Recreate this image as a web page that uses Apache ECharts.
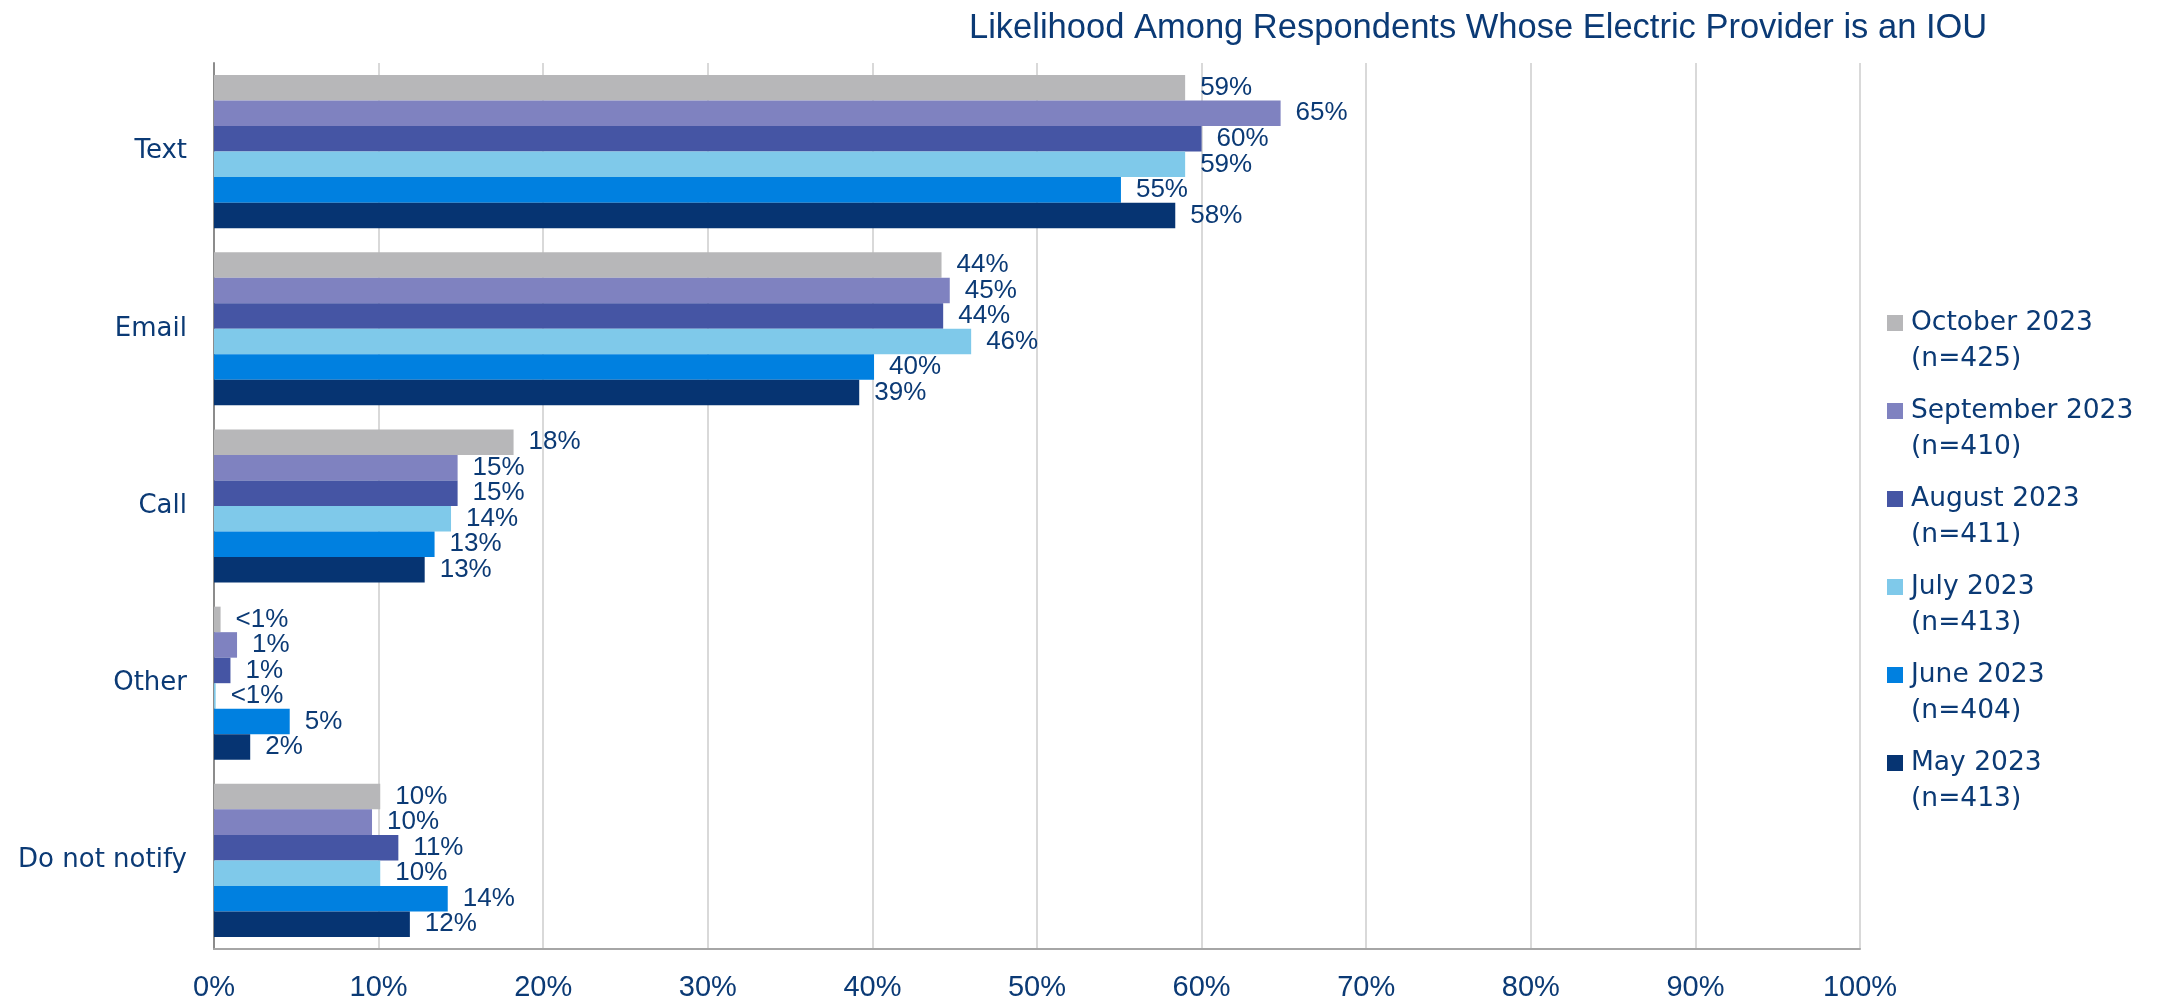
<!DOCTYPE html>
<html>
<head>
<meta charset="utf-8">
<title>Likelihood Among Respondents Whose Electric Provider is an IOU</title>
<script src="https://cdn.jsdelivr.net/npm/echarts@6/dist/echarts.min.js"></script>
<style>
  html, body { margin: 0; padding: 0; background: #ffffff; }
  #chart { width: 2169px; height: 1003px; }
</style>
</head>
<body>
<div id="chart"></div>
<script>
// Notification channels (top to bottom)
const categories = ['Text', 'Email', 'Call', 'Other', 'Do not notify'];

// Survey waves, newest first, with sample sizes
const waves = ['October 2023', 'September 2023', 'August 2023', 'July 2023', 'June 2023', 'May 2023'];
const sampleSizes = [425, 410, 411, 413, 404, 413];

// Share of respondents (%) per channel, one array per wave
const october2023 = [59.0, 44.2, 18.2, 0.4, 10.1];
const september2023 = [64.8, 44.7, 14.8, 1.4, 9.6];
const august2023 = [60.0, 44.3, 14.8, 1.0, 11.2];
const july2023 = [59.0, 46.0, 14.4, 0.1, 10.1];
const june2023 = [55.1, 40.1, 13.4, 4.6, 14.2];
const may2023 = [58.4, 39.2, 12.8, 2.2, 11.9];

const waveValues = [october2023, september2023, august2023, july2023, june2023, may2023];
const waveColors = ['#b7b7b9', '#7f82c0', '#4555a4', '#7fc9ea', '#0080e0', '#063472'];

// Axis ticks
const xTicks = { min: 0, max: 100, step: 10 };

const textColor = '#0b3a75';

function pctLabel(v) {
  return v < 1 ? '<1%' : Math.round(v) + '%';
}

const series = waves.map((name, i) => ({
  name: name,
  type: 'bar',
  data: waveValues[i],
  barGap: '0%',
  barCategoryGap: '13.6%',
  itemStyle: { color: waveColors[i] },
  label: {
    show: true,
    position: 'right',
    distance: 15,
    color: textColor,
    fontFamily: 'Liberation Sans, Arial, sans-serif',
    fontSize: 26,
    formatter: p => pctLabel(p.value)
  }
}));

const chart = echarts.init(document.getElementById('chart'), null, { renderer: 'canvas' });
chart.setOption({
  animation: false,
  backgroundColor: '#ffffff',
  title: {
    text: 'Likelihood Among Respondents Whose Electric Provider is an IOU',
    left: 964,
    top: 6,
    textStyle: {
      color: textColor,
      fontFamily: 'Liberation Sans, Arial, sans-serif',
      fontSize: 34.5,
      fontWeight: 'normal'
    }
  },
  grid: { left: 214, right: 309, top: 63, bottom: 54, containLabel: false },
  legend: {
    orient: 'vertical',
    left: 1882,
    top: 300,
    itemGap: 16,
    itemWidth: 19,
    itemHeight: 52,
    icon: 'path://M0,0H16V16H0Z M19,52L19,52.01',
    data: waves,
    formatter: name => name + '\n(n=' + sampleSizes[waves.indexOf(name)] + ')',
    textStyle: {
      color: textColor,
      fontFamily: 'DejaVu Sans, sans-serif',
      fontSize: 26.5,
      lineHeight: 36
    }
  },
  xAxis: {
    type: 'value',
    min: xTicks.min,
    max: xTicks.max,
    interval: xTicks.step,
    axisLine: { show: true, lineStyle: { color: '#a6a6a6', width: 2 } },
    axisTick: { show: false },
    splitLine: { show: true, lineStyle: { color: '#d9d9d9', width: 2 } },
    axisLabel: {
      formatter: '{value}%',
      color: textColor,
      fontFamily: 'Liberation Sans, Arial, sans-serif',
      fontSize: 29,
      margin: 24
    }
  },
  yAxis: {
    type: 'category',
    data: categories,
    inverse: true,
    axisLine: { show: true, lineStyle: { color: '#8c8c8c', width: 2 } },
    axisTick: { show: false },
    axisLabel: {
      color: textColor,
      fontFamily: 'DejaVu Sans, sans-serif',
      fontSize: 26,
      margin: 27
    }
  },
  series: series
});
</script>
</body>
</html>
